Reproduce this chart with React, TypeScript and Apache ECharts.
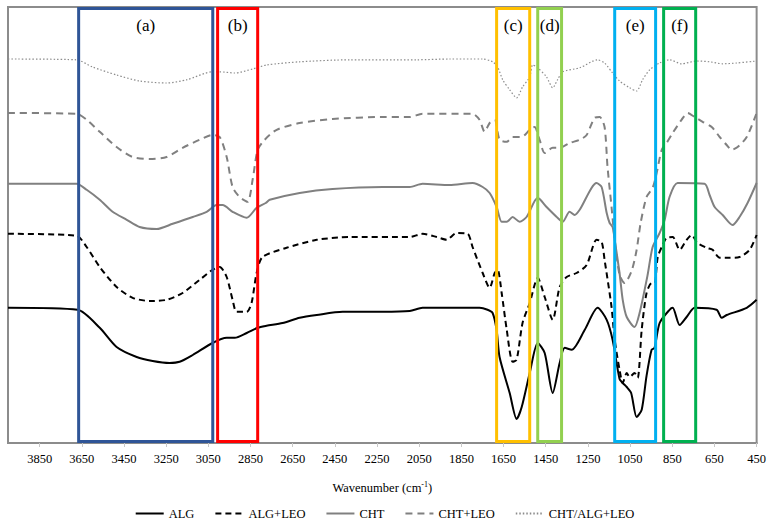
import React, { useEffect, useRef } from "react";
import * as echarts from "echarts";

// Tick labels of the wavenumber axis (cm-1)
const TICKS = [3850, 3650, 3450, 3250, 3050, 2850, 2650, 2450, 2250, 2050, 1850, 1650, 1450, 1250, 1050, 850, 650, 450];

// Highlighted regions (wavenumber from / to) and their labels
const BOX_FROM = [3665, 3006, 1683, 1488, 1123, 891];
const BOX_TO = [3029, 2816, 1526, 1375, 929, 739];
const BOX_LABELS = ["(a)", "(b)", "(c)", "(d)", "(e)", "(f)"];

// Spectra: [wavenumber, transmittance (arbitrary, offset)]
const ALG: [number, number][] = [
  [4000, 33.8], [3670, 33.3], [3565, 28.8], [3485, 24], [3390, 21.5], [3314, 20.5], [3234, 20], [3186, 20.3],
  [3124, 22], [3030, 25], [2963, 26.3], [2925, 26.3], [2868, 27.5], [2816, 28.8], [2774, 29.3], [2698, 30],
  [2617, 31.3], [2536, 32], [2413, 32.8], [2223, 32.8], [2095, 33], [2034, 33.8], [1906, 33.8], [1764, 33.8],
  [1726, 33.3], [1702, 32.5], [1683, 28.3], [1669, 21.5], [1621, 12.5], [1588, 6], [1564, 9], [1526, 17.5],
  [1488, 25], [1455, 22.5], [1417, 12.5], [1384, 20], [1360, 23.8], [1327, 23.3], [1265, 28.3], [1204, 33.8],
  [1161, 30.8], [1133, 25.8], [1100, 16], [1085, 15], [1066, 14], [1045, 12.5], [1019, 6.5], [995, 8.3],
  [972, 16.8], [948, 23.3], [934, 23.8], [910, 30], [863, 33.3], [848, 33.8], [815, 29.5], [782, 31.5],
  [744, 33.8], [640, 33.3], [616, 31.3], [592, 32], [497, 33.8], [450, 35.8],
];

const ALG_LEO: [number, number][] = [
  [4000, 52.3], [3675, 51.8], [3627, 49], [3565, 44], [3485, 39], [3409, 36.3], [3328, 35.5], [3248, 35.8],
  [3172, 37.5], [3091, 40.8], [3030, 43.3], [2996, 44], [2963, 41.5], [2935, 35.8], [2916, 32.8], [2868, 32.8],
  [2845, 35], [2821, 42.5], [2793, 46.5], [2679, 48.8], [2536, 50.8], [2380, 51.5], [2095, 51.5], [2034, 52.3],
  [1967, 51.5], [1920, 50.8], [1873, 52.5], [1820, 52.3], [1797, 49], [1749, 42.5], [1716, 38.8], [1692, 42.5],
  [1678, 43.3], [1659, 37.5], [1635, 28.3], [1607, 20.3], [1588, 20.8], [1560, 30], [1526, 35], [1488, 41.3],
  [1455, 36.5], [1417, 30.8], [1384, 39], [1351, 41.5], [1304, 42.5], [1256, 44.5], [1209, 50.8], [1185, 50.3],
  [1171, 45.8], [1138, 34], [1123, 25.8], [1100, 18.3], [1085, 15], [1066, 17.5], [1052, 16.5], [1029, 17.5],
  [1014, 16.3], [995, 28.3], [972, 37.5], [948, 40], [934, 40], [919, 46.5], [900, 49], [877, 51.3],
  [848, 51.5], [815, 48.3], [782, 50.8], [758, 52], [730, 50], [687, 48.8], [659, 48.3], [625, 46.3],
  [578, 46.3], [531, 46.5], [483, 48.3], [450, 52],
];

const CHT: [number, number][] = [
  [4000, 64.8], [3675, 64.8], [3627, 63.3], [3565, 60.8], [3504, 57.8], [3437, 55.8], [3376, 54], [3295, 53.5],
  [3219, 54.8], [3124, 56.5], [3058, 57.8], [3011, 59.5], [2982, 59.5], [2935, 57.8], [2868, 56.3], [2821, 58.8],
  [2778, 60], [2759, 60.8], [2617, 62.5], [2461, 63.5], [2223, 64], [2095, 64], [2034, 64.8], [1906, 64.5],
  [1797, 65], [1749, 64], [1716, 62.5], [1683, 59], [1659, 55.3], [1635, 55.3], [1607, 56.5], [1574, 55.3],
  [1541, 56.5], [1488, 61.3], [1446, 59], [1398, 56.5], [1370, 55.3], [1337, 57.8], [1313, 57], [1289, 58.3],
  [1209, 65], [1185, 64], [1161, 57.5], [1147, 55], [1133, 54], [1123, 50.8], [1100, 42.5], [1085, 35.8],
  [1066, 31.5], [1029, 29], [1005, 32.5], [967, 42], [943, 49], [910, 52.5], [886, 55.8], [863, 61.5],
  [825, 65], [697, 64.8], [673, 62], [649, 59], [611, 57], [564, 54.5], [531, 56.5], [493, 60], [450, 65],
];

const CHT_LEO: [number, number][] = [
  [4000, 82.5], [3675, 82.3], [3627, 80.8], [3565, 77.8], [3485, 74], [3409, 71.5], [3328, 71], [3248, 71.5],
  [3172, 73.8], [3091, 75.8], [3030, 77], [2996, 76.5], [2963, 71.5], [2935, 64], [2902, 61.5], [2864, 60.3],
  [2840, 65.8], [2816, 73.3], [2783, 75.8], [2726, 78.3], [2617, 80], [2461, 81], [2223, 81.5], [2095, 81.5],
  [2034, 82.3], [1797, 82.3], [1764, 80.8], [1740, 77.8], [1716, 80], [1692, 80.8], [1669, 75.8], [1635, 75.3],
  [1607, 76.5], [1564, 76.5], [1526, 78.3], [1503, 79], [1479, 75.8], [1455, 72.5], [1417, 73.8], [1384, 73.8],
  [1337, 75], [1289, 75.8], [1256, 77], [1218, 81.3], [1194, 81.5], [1171, 79], [1157, 69], [1138, 59],
  [1123, 50.8], [1100, 42], [1076, 40], [1043, 43], [1020, 48], [1000, 55], [972, 61.5], [943, 63.8],
  [924, 67.5], [900, 73.3], [877, 75], [848, 77.5], [806, 80.8], [777, 82.5], [744, 81.5], [706, 80.3],
  [663, 79], [625, 76.5], [592, 74.5], [569, 73.3], [540, 74], [497, 76.5], [450, 82.5],
];

const CHT_ALG_LEO: [number, number][] = [
  [4000, 96], [3675, 95.8], [3599, 94], [3485, 92], [3376, 90.5], [3248, 90], [3153, 90.8], [3030, 92.8],
  [2996, 92.8], [2925, 92.5], [2840, 93.5], [2774, 94.5], [2617, 95.3], [2380, 95.8], [2062, 95.8], [1906, 96],
  [1749, 96], [1702, 95.3], [1678, 94], [1654, 90.8], [1621, 88.3], [1588, 86.3], [1560, 89], [1526, 91.5],
  [1512, 94.5], [1488, 93.8], [1446, 91.5], [1417, 88.8], [1394, 90.8], [1370, 92.8], [1289, 93.8], [1204, 95.8],
  [1171, 95], [1133, 92.5], [1100, 90.5], [1052, 88.8], [1019, 88], [991, 90.8], [957, 93.3], [910, 95],
  [863, 95.8], [806, 94.8], [735, 95.5], [673, 95.3], [611, 94.8], [545, 95], [450, 95.5],
];

const SERIES_NAMES = ["ALG", "ALG+LEO", "CHT", "CHT+LEO", "CHT/ALG+LEO"];

export default function App() {
  const ref = useRef<HTMLDivElement>(null);

  useEffect(() => {
    const el = ref.current;
    if (!el) return;
    const chart = echarts.init(el, null, { renderer: "svg" });
    const FONT = "Liberation Serif";
    const BOX_COLORS = ["#2F5597", "#FF0000", "#FFC000", "#92D050", "#00B0F0", "#00B050"];
    const Y_MAX = 109;

    const lineBase = { type: "line", showSymbol: false, symbol: "none", smooth: 0.25, z: 2 };

    chart.setOption({
      animation: false,
      backgroundColor: "#ffffff",
      textStyle: { fontFamily: FONT },
      grid: {
        left: 8, top: 7, width: 749, height: 436,
        show: true, borderColor: "#8c8c8c", borderWidth: 2, backgroundColor: "transparent",
      },
      xAxis: {
        type: "value", min: 450, max: 4000, inverse: true,
        axisLine: { show: true, lineStyle: { color: "#8c8c8c", width: 2 } },
        axisTick: { show: true, customValues: TICKS, length: 4, lineStyle: { color: "#c8c8c8", width: 1 } },
        axisLabel: {
          customValues: TICKS, color: "#000", fontSize: 12.5, fontFamily: FONT, margin: 9,
          formatter: (v: number) => String(v),
        },
        splitLine: { show: false },
        name: "Wavenumber (cm{sup|-1})",
        nameLocation: "middle",
        nameGap: 37,
        nameTextStyle: {
          color: "#000", fontSize: 12.5, fontFamily: FONT,
          rich: { sup: { fontSize: 8, fontFamily: FONT, color: "#000", padding: [0, 0, 7, 0] } },
        },
      },
      yAxis: {
        type: "value", min: 0, max: Y_MAX, show: false, splitLine: { show: false },
      },
      legend: {
        data: SERIES_NAMES,
        top: 502, left: "center",
        itemWidth: 28, itemHeight: 10, itemGap: 20,
        itemStyle: { opacity: 0 },
        textStyle: { color: "#000", fontSize: 12.5, fontFamily: FONT },
      },
      series: [
        { ...lineBase, name: "ALG", data: ALG, lineStyle: { color: "#000", width: 2 }, itemStyle: { color: "#000" } },
        { ...lineBase, name: "ALG+LEO", data: ALG_LEO, lineStyle: { color: "#000", width: 2, type: [6, 4] }, itemStyle: { color: "#000" } },
        { ...lineBase, name: "CHT", data: CHT, lineStyle: { color: "#808080", width: 2 }, itemStyle: { color: "#808080" } },
        { ...lineBase, name: "CHT+LEO", data: CHT_LEO, lineStyle: { color: "#808080", width: 2, type: [7, 5] }, itemStyle: { color: "#808080" } },
        { ...lineBase, name: "CHT/ALG+LEO", data: CHT_ALG_LEO, lineStyle: { color: "#8c8c8c", width: 1.2, type: [1.5, 2] }, itemStyle: { color: "#8c8c8c" } },
        {
          type: "custom",
          name: "regions",
          silent: true,
          z: 5,
          clip: false,
          data: BOX_FROM.map((f, i) => [f, BOX_TO[i]]),
          renderItem: (params: any, api: any) => {
            const i = params.dataIndex;
            const a = api.coord([api.value(0), Y_MAX]);
            const b = api.coord([api.value(1), 0]);
            const x0 = Math.min(a[0], b[0]);
            const w = Math.abs(b[0] - a[0]);
            return {
              type: "group",
              children: [
                {
                  type: "rect",
                  shape: { x: x0, y: a[1] + 1.5, width: w, height: b[1] - a[1] - 3 },
                  style: { fill: "none", stroke: BOX_COLORS[i], lineWidth: 3 },
                },
                {
                  type: "text",
                  style: {
                    text: BOX_LABELS[i], x: x0 + w / 2, y: a[1] + 18,
                    align: "center", verticalAlign: "middle",
                    fontSize: 17, fontFamily: FONT, fill: "#000",
                  },
                },
              ],
            };
          },
        },
      ],
    });
    return () => chart.dispose();
  }, []);

  return (
    <div
      ref={ref}
      style={{ position: "fixed", left: 0, top: 0, width: 769, height: 522, background: "#fff" }}
    />
  );
}
